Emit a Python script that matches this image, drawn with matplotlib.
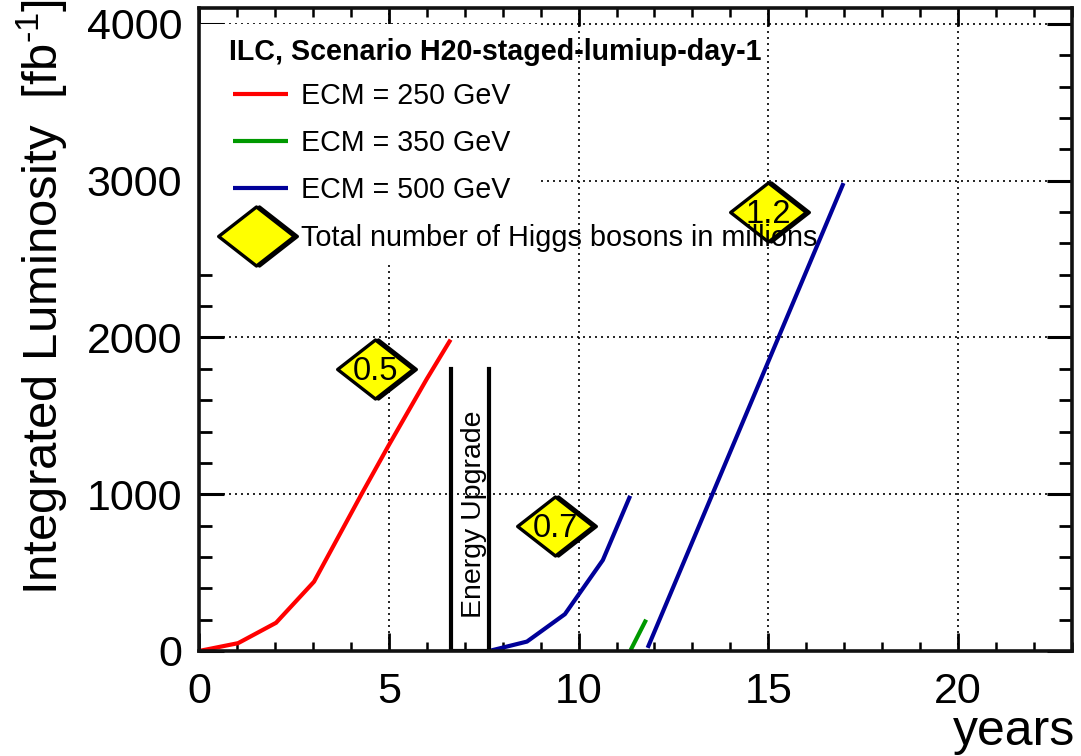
import matplotlib
matplotlib.use("Agg")
import matplotlib.pyplot as plt
from matplotlib.path import Path
from matplotlib.transforms import offset_copy

plt.rcParams['font.family'] = ['Liberation Sans', 'DejaVu Sans']
plt.rcParams['mathtext.fontset'] = 'custom'
plt.rcParams['mathtext.rm'] = 'Liberation Sans'
plt.rcParams['mathtext.default'] = 'regular'
plt.rcParams['ytick.alignment'] = 'center_baseline'

# ---- data ----
red_x = [0, 1.03, 2.03, 3.03, 4.28, 5.0, 6.0, 6.6]
red_y = [0, 50, 180, 442, 1000, 1313, 1735, 1975]
blue1_x = [7.64, 8.64, 9.64, 10.64, 11.36]
blue1_y = [0, 60, 235, 580, 990]
green_x = [11.37, 11.78]
green_y = [5, 200]
blue2_x = [11.82, 16.98]
blue2_y = [20, 2985]
upgrade_x = [6.64, 6.64, 7.64, 7.64]
upgrade_y = [1800, 0, 0, 1800]
higgs_x = [4.64, 9.38, 15.0]
higgs_y = [1800, 800, 2800]
higgs_labels = ['0.5', '0.7', '1.2']
legend_labels = ['ECM = 250 GeV', 'ECM = 350 GeV', 'ECM = 500 GeV']
legend_colors = ['#ff0000', '#009900', '#000099']
x_ticks = [0, 5, 10, 15, 20]
y_ticks = [0, 1000, 2000, 3000, 4000]

W, H = 1081, 756
fig = plt.figure(figsize=(W / 100, H / 100), dpi=100)
L, R, T, B = 199, 1072, 8.3, 651
ax = fig.add_axes([L / W, 1 - B / H, (R - L) / W, (B - T) / H])
ax.set_xlim(0, 23)
ax.set_ylim(0, 4100)

for s in ax.spines.values():
    s.set_linewidth(2.6)
    s.set_color('#111111')
    s.set_zorder(8)

ax.set_xticks(x_ticks)
ax.set_yticks(y_ticks)
ax.set_xticks(range(0, 24), minor=True)
ax.set_yticks(range(0, 4001, 200), minor=True)
ax.tick_params(axis='both', which='both', direction='in', top=True, right=True, color='black')
ax.tick_params(axis='x', which='major', length=13, width=2.0, labelsize=31, pad=15)
ax.tick_params(axis='x', which='minor', length=6.5, width=1.8)
ax.tick_params(axis='y', which='major', length=18, width=2.2, labelsize=31, pad=12)
ax.tick_params(axis='y', which='minor', length=9.5, width=2.0)
ax.grid(True, which='major', color='black', linestyle=(0, (1.2, 2.4)), linewidth=1.2, zorder=1)
ax.set_axisbelow(True)


def px(x, y):
    return (x - L) / (R - L), (B - y) / (B - T)


# white legend box hides the grid beneath it
bx0, by1 = px(L, 24.0)
bx1, by0 = px(538, 262)
ax.add_patch(plt.Rectangle((bx0, by0), bx1 - bx0, by1 - by0, transform=ax.transAxes,
                           facecolor='white', edgecolor='none', zorder=1.5))

lw = 3.0
ax.plot(red_x, red_y, color=legend_colors[0], lw=lw, zorder=3, solid_joinstyle='miter')
ax.plot(green_x, green_y, color=legend_colors[1], lw=lw, zorder=3, solid_capstyle='butt')
ax.plot(blue1_x, blue1_y, color=legend_colors[2], lw=lw, zorder=3, solid_capstyle='butt')
ax.plot(blue2_x, blue2_y, color=legend_colors[2], lw=lw, zorder=3, solid_capstyle='butt')
ax.plot(upgrade_x, upgrade_y, color='black', lw=3.0, zorder=4, solid_joinstyle='miter')
ax.text(7.25, 875, 'Energy Upgrade', rotation=90, ha='center', va='center', fontsize=20.5, zorder=5)

diamond = Path([(-1, 0), (0, 0.78), (1, 0), (0, -0.78), (-1, 0)], closed=True)
dsize = 54.5
shadow_tr = offset_copy(ax.transData, fig=fig, x=3, y=0, units='dots')

ax.plot(higgs_x, higgs_y, transform=shadow_tr, linestyle='none', marker=diamond, ms=dsize,
        mfc='black', mec='black', mew=2.4, zorder=6)
ax.plot(higgs_x, higgs_y, linestyle='none', marker=diamond, ms=dsize,
        mfc='#ffff00', mec='black', mew=2.4, zorder=6)
for x, y, s in zip(higgs_x, higgs_y, higgs_labels):
    ax.text(x, y - 17, s, ha='center', va='center', fontsize=23.5, zorder=7)

# legend
tx, ty = px(229, 52)
ax.text(tx, ty, 'ILC, Scenario H20-staged-lumiup-day-1', transform=ax.transAxes,
        fontsize=20.6, fontweight='bold', ha='left', va='center', zorder=7)
for yp, lab, col in zip([94, 141, 188], legend_labels, legend_colors):
    x0, y0 = px(233, yp)
    x1, _ = px(288, yp)
    ax.plot([x0, x1], [y0, y0], transform=ax.transAxes, color=col, lw=lw, zorder=6,
            solid_capstyle='butt')
    tx, ty = px(301, yp + 2)
    ax.text(tx, ty, lab, transform=ax.transAxes, fontsize=20.6, ha='left', va='center', zorder=7)

dx, dy = px(256, 236)
ax.plot([dx], [dy], transform=offset_copy(ax.transAxes, fig=fig, x=3, y=0, units='dots'),
        linestyle='none', marker=diamond, ms=dsize, mfc='black', mec='black', mew=2.4, zorder=6)
ax.plot([dx], [dy], transform=ax.transAxes, linestyle='none', marker=diamond, ms=dsize,
        mfc='#ffff00', mec='black', mew=2.4, zorder=6)
tx, ty = px(301, 238)
ax.text(tx, ty, 'Total number of Higgs bosons in millions', transform=ax.transAxes,
        fontsize=20.8, ha='left', va='center', zorder=7)

fig.text(1075 / W, 1 - 745 / H, 'years', fontsize=36, ha='right', va='baseline')
fig.text(42 / W, 1 - 595 / H, r'Integrated Luminosity  [fb$^{\text{-}1}$]', fontsize=35.4,
         rotation=90, ha='center', va='bottom')

fig.savefig('out.png', dpi=100)
